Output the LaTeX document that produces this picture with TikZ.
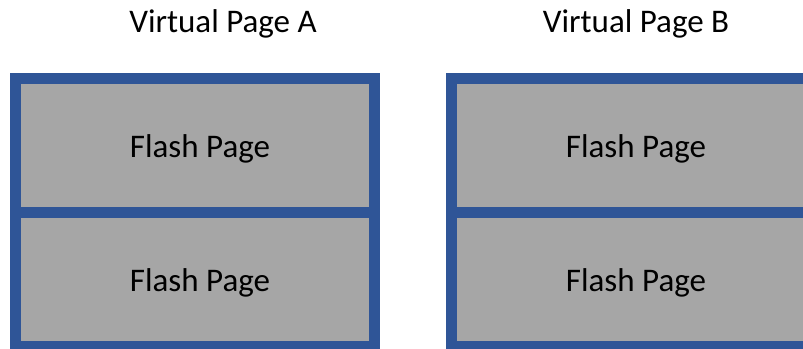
\documentclass[tikz,border=0pt]{standalone}
\usepackage{fontspec}
\setmainfont{Carlito}
\tikzset{
  cell/.style={draw=pageblue, fill=cellgray, line width=11pt, line join=miter,
    minimum width=359pt, minimum height=134pt, inner sep=0pt, outer sep=0pt},
  caption/.style={font=\fontsize{33}{39}\selectfont, inner sep=0pt}
}
\definecolor{pageblue}{HTML}{2F5597}
\definecolor{cellgray}{HTML}{A6A6A6}
\begin{document}
\begin{tikzpicture}[x=1pt, y=-1pt]
  \useasboundingbox (0,0) rectangle (803,348);
  % virtual page A: two stacked flash pages
  \node[cell] (a1) at (195,145.5) {};
  \node[cell] (a2) at (195,279.5) {};
  % virtual page B
  \node[cell] (b1) at (630.5,145.5) {};
  \node[cell] (b2) at (630.5,279.5) {};
  % page labels
  \node[caption] (la1) at ([shift={(5,3.5)}]a1.center) {Flash Page};
  \node[caption] (la2) at ([shift={(5,3)}]a2.center) {Flash Page};
  \node[caption] (lb1) at ([shift={(5.5,3.5)}]b1.center) {Flash Page};
  \node[caption] (lb2) at ([shift={(5.5,3)}]b2.center) {Flash Page};
  % headings
  \node[caption] (ta) at (223,24) {Virtual Page A};
  \node[caption] (tb) at (636,24) {Virtual Page B};
\end{tikzpicture}
\end{document}
